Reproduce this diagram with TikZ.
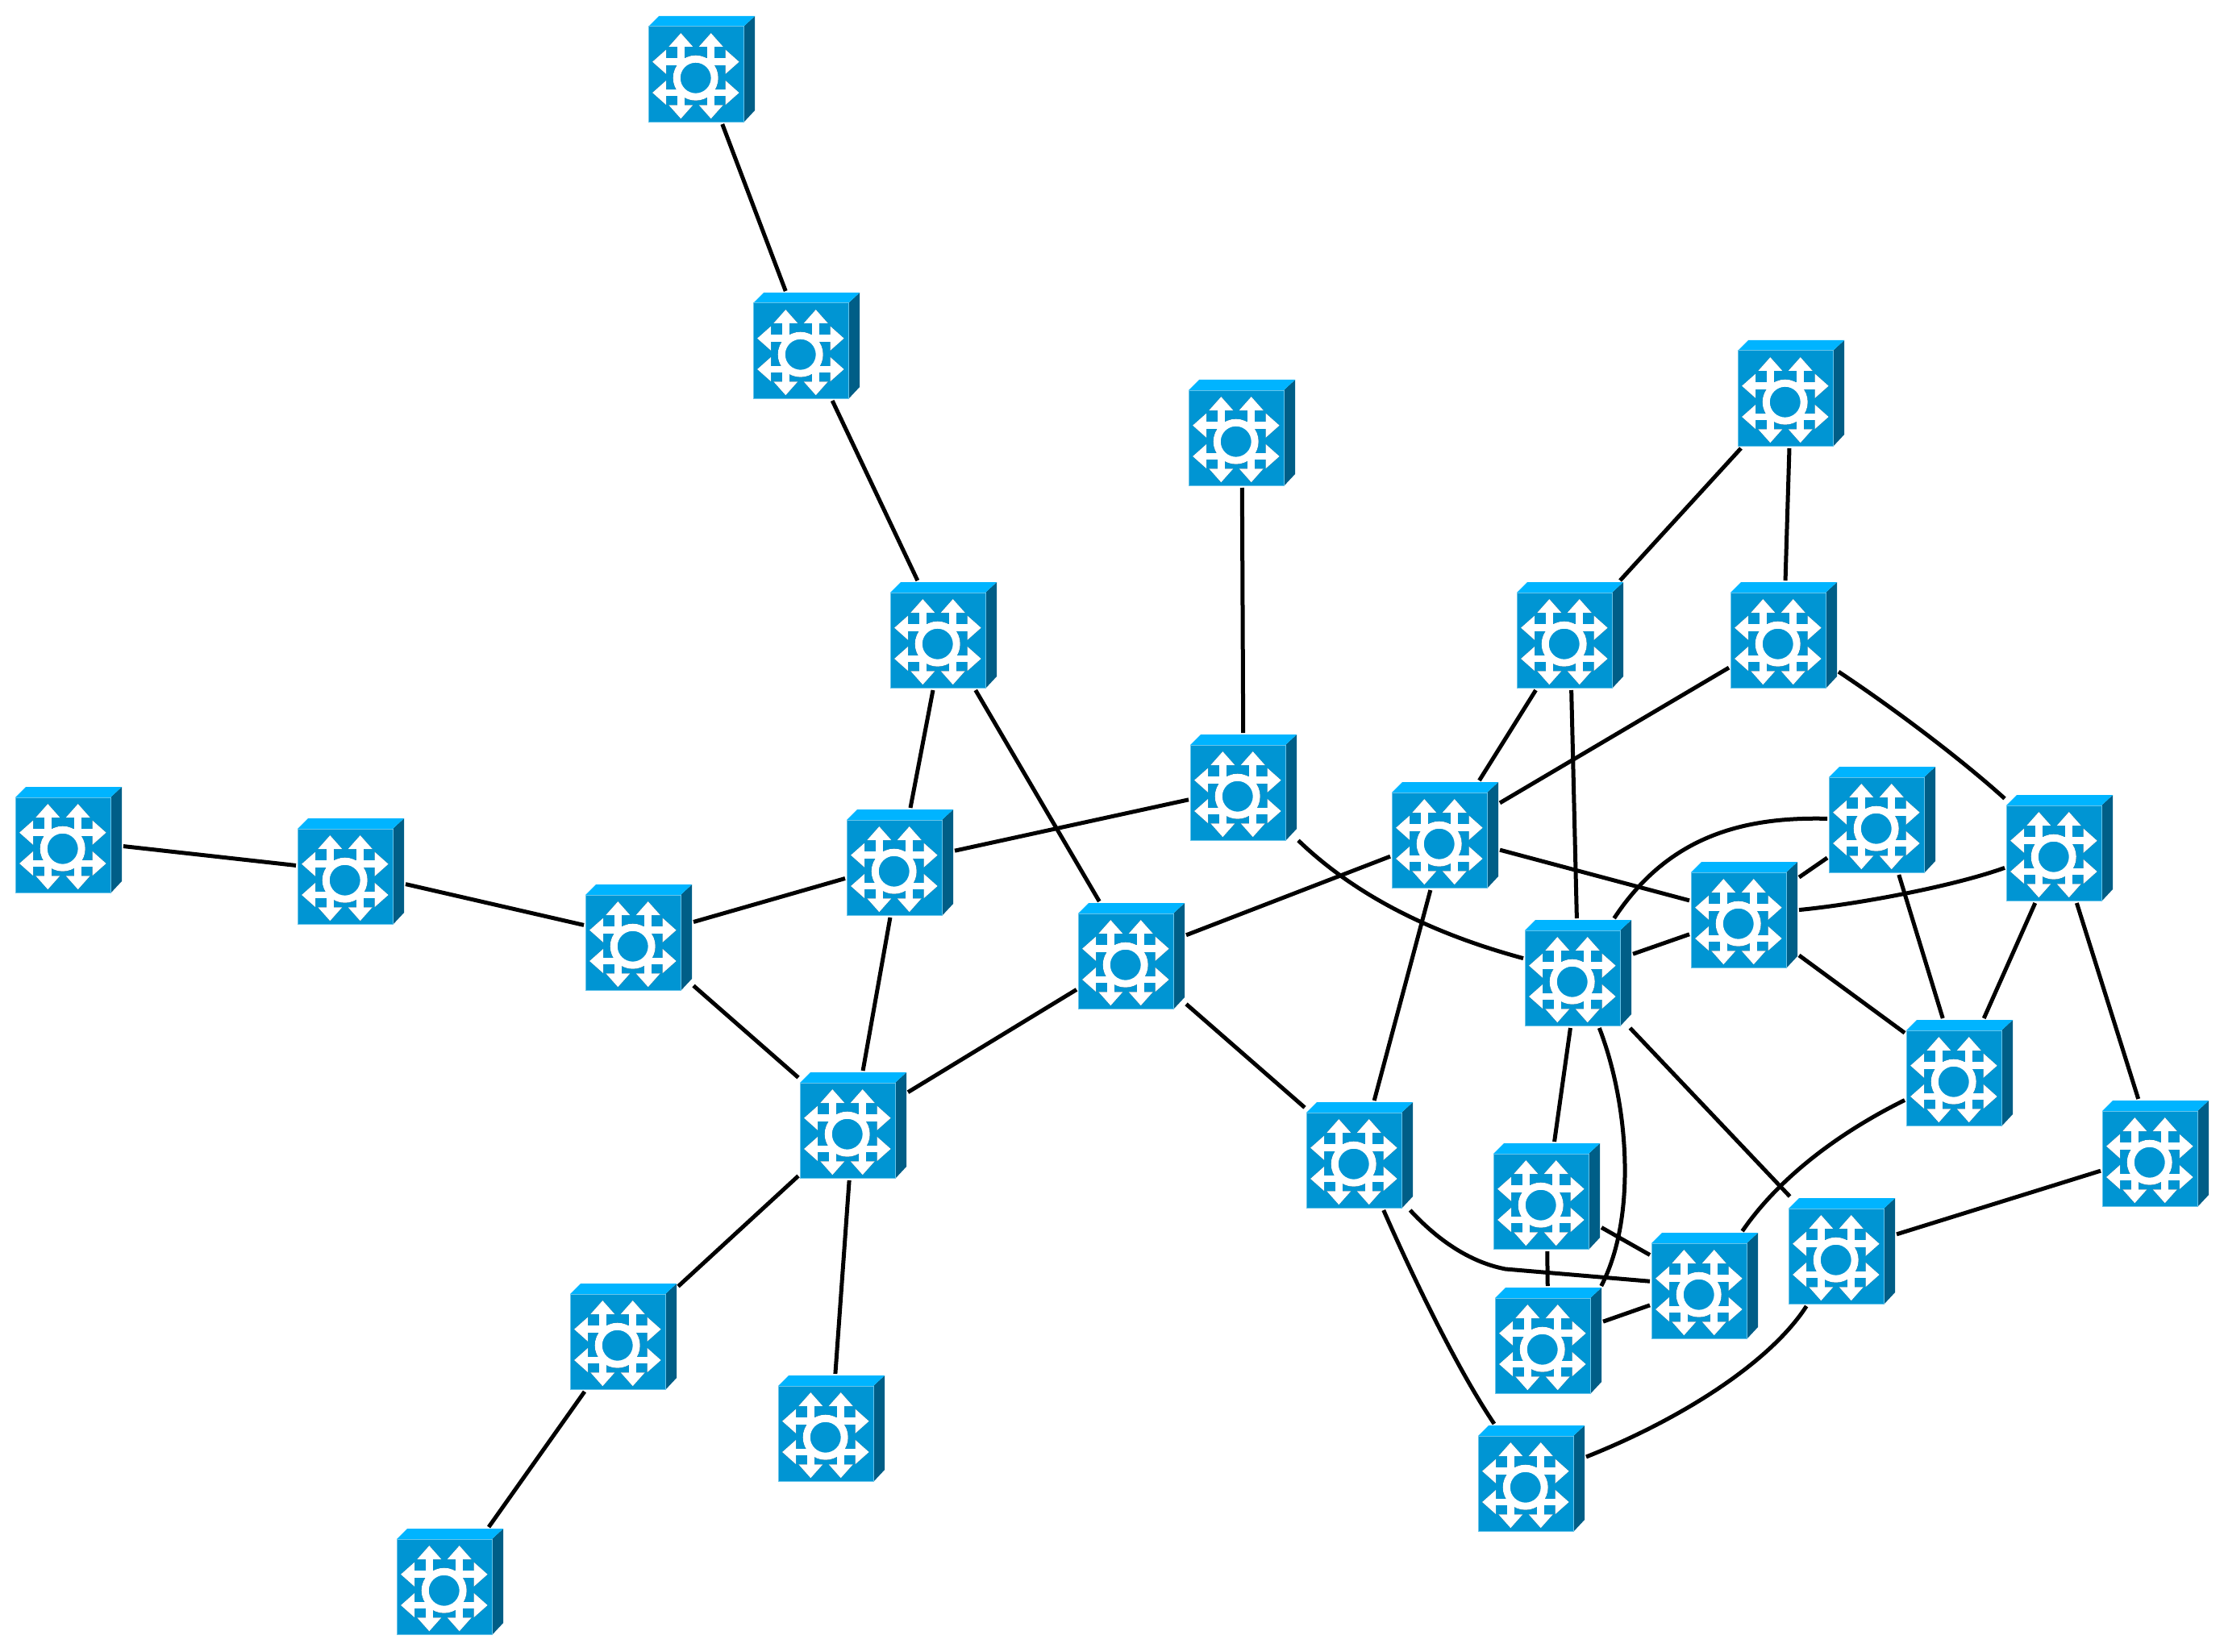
\documentclass[tikz,border=0pt]{standalone}
\usetikzlibrary{arrows.meta}

\definecolor{unitfront}{HTML}{0095D3}
\definecolor{unittop}{HTML}{00B4FF}
\definecolor{unitside}{HTML}{005E87}
\definecolor{unitedge}{HTML}{66C4EA}
\definecolor{unitshade}{HTML}{1C3440}

\newcommand{\unitcross}[1]{
	\foreach \a in {0.093,-0.29}
		\draw[#1,line width=0.088cm,{Triangle[width=0.29cm,length=0.17cm]}-{Triangle[width=0.29cm,length=0.17cm]}] (-0.61,\a) -- (0.467,\a);
	\foreach \a in {-0.257,0.117}
		\draw[#1,line width=0.088cm,{Triangle[width=0.29cm,length=0.17cm]}-{Triangle[width=0.29cm,length=0.17cm]}] (\a,0.45) -- (\a,-0.613);
}

\begin{document}
\begin{tikzpicture}[line width=0.05cm]
	\tikzstyle{unit}=[shape=rectangle,inner sep=0,outer sep=0.01cm,minimum size=1.34cm,path picture={
		\begin{scope}[shift={(path picture bounding box.center)}]
			\fill[unitside] (0.52,-0.66) -- (0.66,-0.51) -- (0.66,0.66) -- (0.52,0.53) -- cycle;
			\fill[unittop] (-0.66,0.53) -- (-0.53,0.66) -- (0.66,0.66) -- (0.52,0.53) -- cycle;
			\fill[unitfront,draw=unitedge,line width=0.01cm] (-0.655,-0.655) rectangle (0.52,0.53);
			\begin{scope}[xshift=0.012cm,yshift=-0.012cm]
				\unitcross{unitshade}
				\draw[unitshade,line width=0.09cm] (-0.073,-0.107) circle (0.235cm);
			\end{scope}
			\unitcross{white}
			\draw[white,fill=unitfront,line width=0.09cm] (-0.073,-0.107) circle (0.235cm);
		\end{scope}}]

	\useasboundingbox (0,0) rectangle (27.58,20.48);

	\node[unit](s1) at (8.70,19.62){};
	\node[unit](s2) at (10.00,16.19){};
	\node[unit](s3) at (15.40,15.11){};
	\node[unit](s4) at (22.21,15.60){};
	\node[unit](s5) at (19.47,12.60){};
	\node[unit](s6) at (22.12,12.60){};
	\node[unit](s7) at (11.70,12.60){};
	\node[unit](s8) at (15.42,10.71){};
	\node[unit](s9) at (17.92,10.12){};
	\node[unit](s10) at (23.34,10.31){};
	\node[unit](s11) at (25.54,9.96){};
	\node[unit](s12) at (0.85,10.06){};
	\node[unit](s13) at (4.35,9.67){};
	\node[unit](s14) at (11.16,9.78){};
	\node[unit](s15) at (7.92,8.85){};
	\node[unit](s16) at (21.63,9.13){};
	\node[unit](s17) at (14.03,8.62){};
	\node[unit](s18) at (19.57,8.41){};
	\node[unit](s19) at (24.30,7.17){};
	\node[unit](s20) at (10.58,6.52){};
	\node[unit](s21) at (16.86,6.15){};
	\node[unit](s22) at (26.73,6.17){};
	\node[unit](s23) at (19.18,5.64){};
	\node[unit](s24) at (22.84,4.96){};
	\node[unit](s25) at (21.14,4.53){};
	\node[unit](s26) at (7.73,3.90){};
	\node[unit](s27) at (19.20,3.85){};
	\node[unit](s28) at (10.31,2.76){};
	\node[unit](s29) at (18.99,2.14){};
	\node[unit](s30) at (5.58,0.86){};

	\draw (s1) -- (s2);
	\draw (s2) -- (s7);
	\draw (s3) -- (s8);
	\draw (s4) -- (s5);
	\draw (s4) -- (s6);
	\draw (s5) -- (s9);
	\draw (s5) -- (s18);
	\draw (s6) -- (s9);
	\draw (s7) -- (s14);
	\draw (s7) -- (s17);
	\draw (s8) -- (s14);
	\draw (s9) -- (s17);
	\draw (s9) -- (s16);
	\draw (s9) -- (s21);
	\draw (s10) -- (s16);
	\draw (s10) -- (s19);
	\draw (s11) -- (s19);
	\draw (s11) -- (s22);
	\draw (s12) -- (s13);
	\draw (s13) -- (s15);
	\draw (s14) -- (s15);
	\draw (s14) -- (s20);
	\draw (s15) -- (s20);
	\draw (s16) -- (s18);
	\draw (s16) -- (s19);
	\draw (s17) -- (s20);
	\draw (s17) -- (s21);
	\draw (s18) -- (s23);
	\draw (s18) -- (s24);
	\draw (s20) -- (s26);
	\draw (s20) -- (s28);
	\draw (s22) -- (s24);
	\draw (s23) -- (s25);
	\draw (s23) -- (s27);
	\draw (s25) -- (s27);
	\draw (s26) -- (s30);

	\draw (s6) .. controls (23.58,11.63) and (24.38,11.01) .. (s11);
	\draw (s8) .. controls (16.75,9.43) and (17.65,8.93) .. (s18);
	\draw (s10) .. controls (21.65,10.35) and (20.70,10.13) .. (s18);
	\draw (s16) .. controls (23.00,9.26) and (24.20,9.48) .. (s11);
	\draw (s18) .. controls (20.20,6.78) and (20.30,5.38) .. (s27.46);
	\draw (s19) .. controls (22.90,6.48) and (22.10,5.93) .. (s25);
	\draw (s21) .. controls (17.80,5.13) and (18.20,4.83) .. (18.67,4.74) -- (s25);
	\draw (s21) .. controls (17.60,4.46) and (18.13,3.41) .. (s29);
	\draw (s24) .. controls (21.95,3.58) and (20.85,2.88) .. (s29);
\end{tikzpicture}
\end{document}
